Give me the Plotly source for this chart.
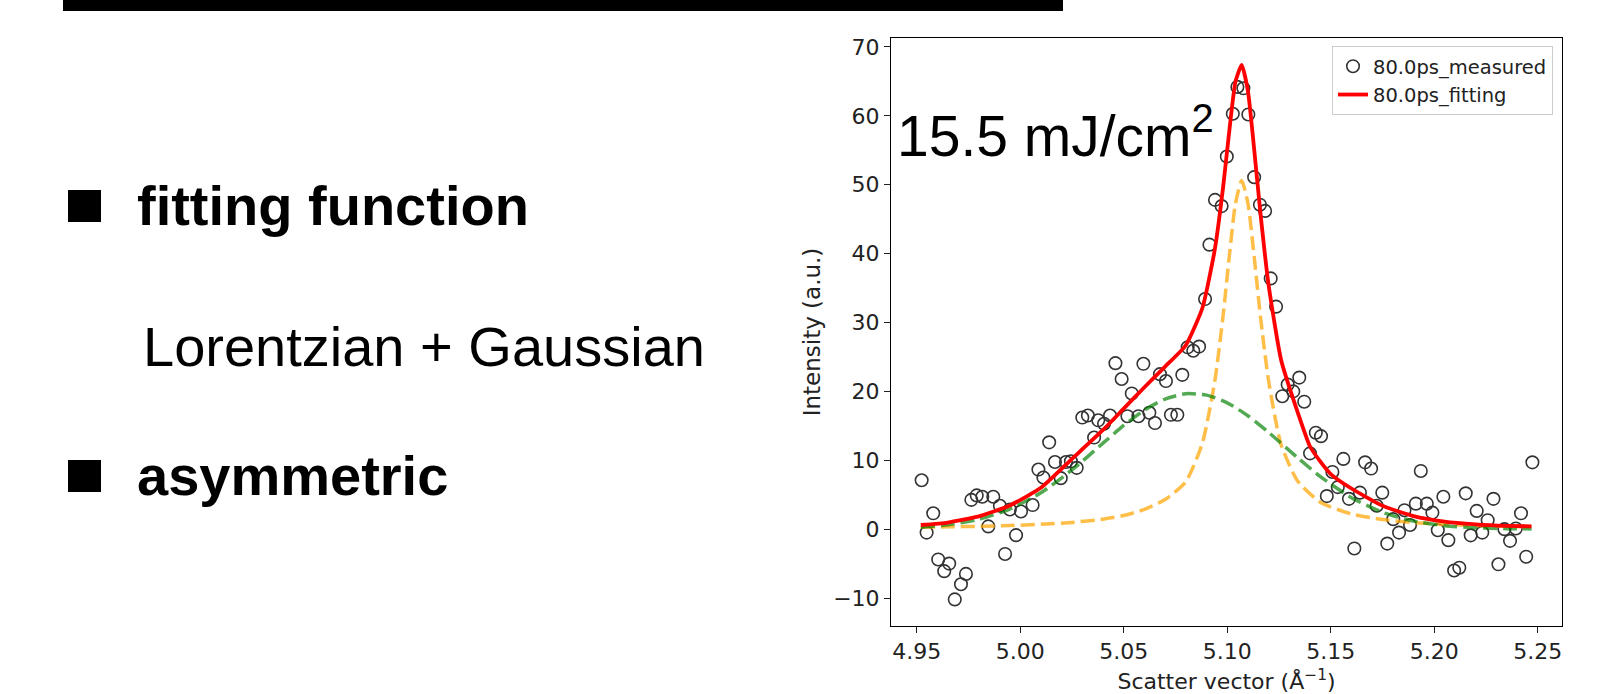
import plotly.graph_objects as go

# ---------------- data ----------------
meas_x = [4.9524, 4.9548, 4.958, 4.9604, 4.9633, 4.9657, 4.9684, 4.9714, 4.9738, 4.9764,
          4.979, 4.9817, 4.9846, 4.987, 4.9902, 4.9927, 4.995, 4.998, 5.0004, 5.006,
          5.0088, 5.0112, 5.014, 5.0168, 5.0196, 5.0221, 5.0245, 5.0273, 5.03, 5.0327,
          5.0357, 5.0377, 5.0405, 5.0434, 5.046, 5.049, 5.0518, 5.0539, 5.0571, 5.0595,
          5.0624, 5.0651, 5.0675, 5.0704, 5.0728, 5.0759, 5.0783, 5.0809, 5.0836, 5.0864,
          5.0893, 5.0914, 5.0941, 5.0973, 5.0998, 5.1027, 5.1049, 5.1078, 5.1102, 5.113,
          5.1158, 5.1183, 5.121, 5.1236, 5.1266, 5.1292, 5.1319, 5.1348, 5.1372, 5.14,
          5.1428, 5.1453, 5.1481, 5.1508, 5.1534, 5.1561, 5.1588, 5.1614, 5.1641, 5.1666,
          5.1695, 5.1722, 5.1749, 5.1773, 5.1802, 5.183, 5.1856, 5.1883, 5.1911, 5.1935,
          5.1964, 5.1991, 5.2017, 5.2044, 5.2068, 5.2096, 5.2121, 5.2152, 5.2176, 5.2205,
          5.2232, 5.2258, 5.2286, 5.231, 5.2339, 5.2366, 5.2394, 5.2419, 5.2444, 5.2474]
meas_y = [7.1, -0.5, 2.3, -4.4, -6.1, -5.0, -10.2, -8.0, -6.5, 4.25,
          4.9, 4.7, 0.4, 4.7, 3.4, -3.6, 2.85, -0.87, 2.56, 3.5,
          8.65, 7.5, 12.6, 9.75, 7.4, 9.75, 9.85, 8.9, 16.2, 16.5,
          13.3, 15.8, 15.3, 16.5, 24.1, 21.8, 16.4, 19.7, 16.4, 24.0,
          16.9, 15.4, 22.5, 21.5, 16.6, 16.6, 22.4, 26.4, 25.9, 26.5,
          33.4, 41.3, 47.8, 46.9, 54.1, 60.3, 64.2, 64.0, 60.2, 51.1,
          47.1, 46.2, 36.4, 32.3, 19.3, 21.0, 20.0, 22.0, 18.5, 11.0,
          14.0, 13.5, 4.8, 8.3, 6.1, 10.2, 4.4, -2.8, 5.3, 9.7,
          8.8, 3.4, 5.3, -2.1, 1.45, -0.5, 2.75, 0.6, 3.7, 8.45,
          3.7, 2.4, -0.15, 4.7, -1.6, -6.0, -5.6, 5.2, -0.9, 2.65,
          -0.5, 1.3, 4.4, -5.1, 0.0, -1.7, 0.1, 2.3, -4.0, 9.7]

fit_x = [4.952, 4.965, 4.98, 4.995, 5.01, 5.025, 5.04, 5.05, 5.06, 5.07, 5.08, 5.088,
         5.094, 5.098, 5.101, 5.104, 5.107, 5.110, 5.113, 5.116, 5.12, 5.126, 5.134,
         5.14, 5.145, 5.15, 5.16, 5.175, 5.19, 5.205, 5.22, 5.235, 5.247]
fit_y = [0.6, 0.96, 1.85, 3.44, 6.0, 10.2, 14.4, 17.5, 20.6, 23.6, 26.7, 32.1,
         40.6, 49.6, 57.8, 65.0, 67.4, 63.6, 55.2, 46.0, 35.4, 24.6, 17.0,
         12.0, 9.8, 8.0, 5.9, 3.4, 1.9, 1.1, 0.7, 0.48, 0.4]

lor_x = [4.952, 4.965, 4.98, 4.995, 5.01, 5.025, 5.04, 5.05, 5.06, 5.07, 5.08, 5.088,
         5.094, 5.098, 5.101, 5.104, 5.107, 5.110, 5.113, 5.116, 5.12, 5.126, 5.134,
         5.145, 5.16, 5.175, 5.19, 5.205, 5.22, 5.235, 5.247]
lor_y = [0.28, 0.33, 0.41, 0.53, 0.70, 0.98, 1.45, 1.98, 2.86, 4.3, 6.9, 12.5,
         21.5, 31.0, 39.6, 47.3, 50.6, 47.3, 39.6, 31.0, 21.5, 12.3, 7.0,
         3.9, 2.2, 1.4, 0.95, 0.69, 0.52, 0.41, 0.34]

gau_x = [4.952, 4.965, 4.98, 4.995, 5.01, 5.025, 5.04, 5.05, 5.06, 5.07, 5.08, 5.09,
         5.10, 5.11, 5.12, 5.134, 5.145, 5.16, 5.175, 5.19, 5.205, 5.22, 5.235, 5.247]
gau_y = [0.29, 0.63, 1.43, 2.91, 5.28, 8.59, 12.48, 15.05, 17.29, 18.89, 19.66, 19.46,
         18.34, 16.46, 14.05, 10.36, 7.63, 4.56, 2.44, 1.17, 0.5, 0.19, 0.07, 0.03]

x_ticks = [4.95, 5.00, 5.05, 5.10, 5.15, 5.20, 5.25]
y_ticks = [-10, 0, 10, 20, 30, 40, 50, 60, 70]

# ---------------- layout geometry ----------------
W, H = 1615, 694
L_, R_, T_, B_ = 891, 1562, 38, 626


def px(X):
    return (X - L_) / (R_ - L_)


def py(Y):
    return (B_ - Y) / (B_ - T_)


fig = go.Figure()
fig.add_trace(go.Scatter(x=meas_x, y=meas_y, mode="markers", name="80.0ps_measured",
                         marker=dict(symbol="circle-open", size=12.5, color="#333333",
                                     line=dict(width=1.6, color="#333333"))))
fig.add_trace(go.Scatter(x=lor_x, y=lor_y, mode="lines", showlegend=False,
                         line=dict(color="rgba(255,165,0,0.72)", width=3.5, dash="14px,6px",
                                   shape="spline", smoothing=0.6)))
fig.add_trace(go.Scatter(x=gau_x, y=gau_y, mode="lines", showlegend=False,
                         line=dict(color="rgba(0,128,0,0.68)", width=3.5, dash="14px,6px",
                                   shape="spline", smoothing=0.6)))
fig.add_trace(go.Scatter(x=fit_x, y=fit_y, mode="lines", name="80.0ps_fitting",
                         line=dict(color="#ff0000", width=3.8, shape="spline", smoothing=0.5)))

tickfont = dict(family="DejaVu Sans", size=22, color="#222222")
fig.update_xaxes(range=[4.9376, 5.2617], tickvals=x_ticks, ticktext=[f"{v:.2f}" for v in x_ticks],
                 automargin=False,
                 showline=True, mirror=True, linecolor="#000000", linewidth=1,
                 ticks="outside", ticklen=6, tickcolor="#222222", showgrid=False, zeroline=False,
                 tickfont=tickfont,
                 title=dict(text="Scatter vector (Å<sup>−1</sup>)", standoff=10,
                            font=dict(family="DejaVu Sans", size=22, color="#222222")))
fig.update_yaxes(range=[-14.06, 71.3], tickvals=y_ticks,
                 ticktext=[("−" + str(-v)) if v < 0 else str(v) for v in y_ticks],
                 automargin=False,
                 showline=True, mirror=True, linecolor="#000000", linewidth=1,
                 ticks="outside", ticklen=6, tickcolor="#222222", showgrid=False, zeroline=False,
                 tickfont=tickfont,
                 title=dict(text="Intensity (a.u.)", standoff=6,
                            font=dict(family="DejaVu Sans", size=23, color="#222222")))

shapes = [
    dict(type="rect", xref="paper", yref="paper", x0=px(63), x1=px(1063), y0=py(11), y1=py(-5),
         fillcolor="#000000", line=dict(width=0)),
    dict(type="rect", xref="paper", yref="paper", x0=px(68), x1=px(101), y0=py(222), y1=py(190),
         fillcolor="#000000", line=dict(width=0)),
    dict(type="rect", xref="paper", yref="paper", x0=px(68), x1=px(101), y0=py(492), y1=py(460),
         fillcolor="#000000", line=dict(width=0)),
]

ann = [
    dict(text="<b>fitting function</b>", x=px(135), y=py(205), xanchor="left", yanchor="middle",
         font=dict(family="Liberation Sans", size=56, color="#000000")),
    dict(text="Lorentzian + Gaussian", x=px(141), y=py(346), xanchor="left", yanchor="middle",
         font=dict(family="Liberation Sans", size=56, color="#000000")),
    dict(text="<b>asymmetric</b>", x=px(135), y=py(475), xanchor="left", yanchor="middle",
         font=dict(family="Liberation Sans", size=56, color="#000000")),
    dict(text="15.5 mJ/cm<sup>2</sup>", x=px(895), y=py(132), xanchor="left", yanchor="middle",
         font=dict(family="Liberation Sans", size=57, color="#000000")),
]
for a in ann:
    a.update(xref="paper", yref="paper", showarrow=False)

fig.update_layout(
    width=W, height=H, autosize=False,
    margin=dict(l=L_, r=W - R_, t=T_, b=H - B_, pad=0),
    paper_bgcolor="#ffffff", plot_bgcolor="#ffffff",
    shapes=shapes, annotations=ann,
    legend=dict(x=px(1553), y=py(46), xanchor="right", yanchor="top",
                bgcolor="#ffffff", bordercolor="#cccccc", borderwidth=1,
                itemwidth=30, tracegroupgap=0,
                font=dict(family="DejaVu Sans", size=19.5, color="#222222")),
)

fig.write_html("out.html")
